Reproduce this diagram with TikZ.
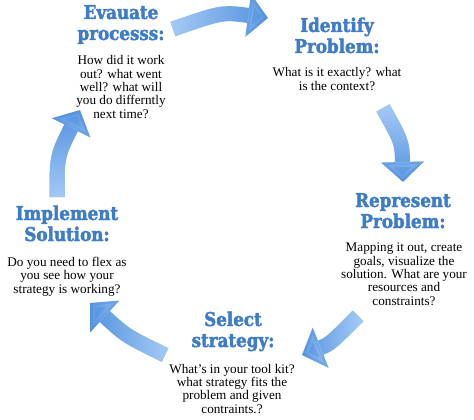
\documentclass[tikz,border=0pt]{standalone}
\usepackage{fontspec}
\setmainfont{Liberation Serif}
\newfontfamily\titlefont[FakeStretch=0.88,BoldFeatures={FakeBold=2.2}]{DejaVu Serif}
\usetikzlibrary{arrows.meta,fadings}
\definecolor{stageblue}{RGB}{62,124,200}
\definecolor{arrowblue}{RGB}{78,142,222}
\definecolor{arrowlight}{RGB}{170,205,246}

\begin{document}
\begin{tikzpicture}[x=1pt,y=-1pt,
    stagetitle/.style={anchor=base,align=center,text=stageblue,inner sep=0pt,
            font=\titlefont\bfseries\fontsize{19}{21}\selectfont},
    stagetext/.style={anchor=base,align=center,inner sep=0pt,
            font=\fontsize{13.2}{13.3}\selectfont},
    cycarrow/.style={draw=arrowblue,line width=15pt,-{Triangle[width=42pt,length=20pt]}},
    cyclight/.style={cycarrow,draw=arrowlight,path fading=#1}]

\useasboundingbox (0,0) rectangle (474,420);

%Evaluate====================================================================
\node[stagetitle] (1) at (121,40) {Evauate\\processs:};
\node[stagetext] (2) at (121,118) {How did it work\\out? what went\\well? what will\\you do differntly\\next time?};

%Identify====================================================================
\node[stagetitle] (3) at (337,53) {Identify\\Problem:};
\node[stagetext] (4) at (337,90) {What is it exactly? what\\is the context?};

%Represent===================================================================
\node[stagetitle] (5) at (403,228) {Represent\\Problem:};
\node[stagetext] (6) at (404,305) {Mapping it out, create\\goals, visualize the\\solution. What are your\\resources and\\constraints?};

%Select======================================================================
\node[stagetitle] (9) at (233,347) {Select\\strategy:};
\node[stagetext] (10) at (232,413) {What's in your tool kit?\\what strategy fits the\\problem and given\\contraints.?};

%Implement===================================================================
\node[stagetitle] (7) at (67,241) {Implement\\Solution:};
\node[stagetext] (8) at (67,293) {Do you need to flex as\\you see how your\\strategy is working?};

%arrows======================================================================
\coordinate (t1) at (173,29);
\coordinate (c1) at (222,12);
\coordinate (h1) at (268,18);
\coordinate (t2) at (383,108);
\coordinate (c2) at (402,142);
\coordinate (h2) at (403,182);
\coordinate (t3) at (358,316);
\coordinate (c3) at (330,344);
\coordinate (h3) at (302,355);
\coordinate (t4) at (165,355);
\coordinate (c4) at (126,336);
\coordinate (h4) at (90,303);
\coordinate (t5) at (57,197);
\coordinate (c5) at (57,156);
\coordinate (h5) at (80,110);

\draw[cycarrow] (t1) .. controls (c1) .. (h1);
\draw[cycarrow] (t2) .. controls (c2) .. (h2);
\draw[cycarrow] (t3) .. controls (c3) .. (h3);
\draw[cycarrow] (t4) .. controls (c4) .. (h4);
\draw[cycarrow] (t5) .. controls (c5) .. (h5);

\draw[cyclight=east] (t1) .. controls (c1) .. (h1);
\draw[cyclight=south] (t2) .. controls (c2) .. (h2);
\draw[cyclight=west] (t3) .. controls (c3) .. (h3);
\draw[cyclight=west] (t4) .. controls (c4) .. (h4);
\draw[cyclight=north] (t5) .. controls (c5) .. (h5);
%=======================================================================

\end{tikzpicture}
\end{document}
